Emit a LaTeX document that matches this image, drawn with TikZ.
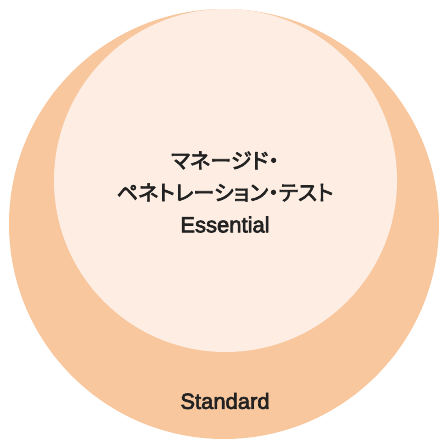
\documentclass[tikz,border=0pt]{standalone}
\usepackage{fontspec}
\setmainfont{Noto Sans CJK JP}[FakeBold=3,RawFeature=+palt]
\newfontfamily\latinfont{Liberation Sans}[FakeBold=3]
\usepackage{tikz}

\definecolor{outerfill}{RGB}{248,199,158}
\definecolor{innerfill}{RGB}{253,237,226}
\definecolor{labeltext}{RGB}{34,34,34}

\tikzset{
  ring/.style={circle,inner sep=0pt,draw=none},
  lbl/.style={text=labeltext,align=center,inner sep=0pt,
    font=\fontsize{21.2}{32}\selectfont}
}

\begin{document}
\begin{tikzpicture}[x=1pt,y=-1pt]
\useasboundingbox (0,0) rectangle (439,439);
% two tiers
\node[ring,fill=outerfill,minimum size=430] (standard) at (224,224) {};
\node[ring,fill=innerfill,minimum size=343] (essential) at (225.5,180.5) {};
% labels
\node[lbl] (essentialtext) at (225,192) {マネージド・\\ペネトレーション・テスト\\{\latinfont\fontsize{22}{32}\selectfont Essential}};
\node[lbl,font=\latinfont\fontsize{22}{22}\selectfont] (standardtext) at (225,401) {Standard};
\end{tikzpicture}
\end{document}
